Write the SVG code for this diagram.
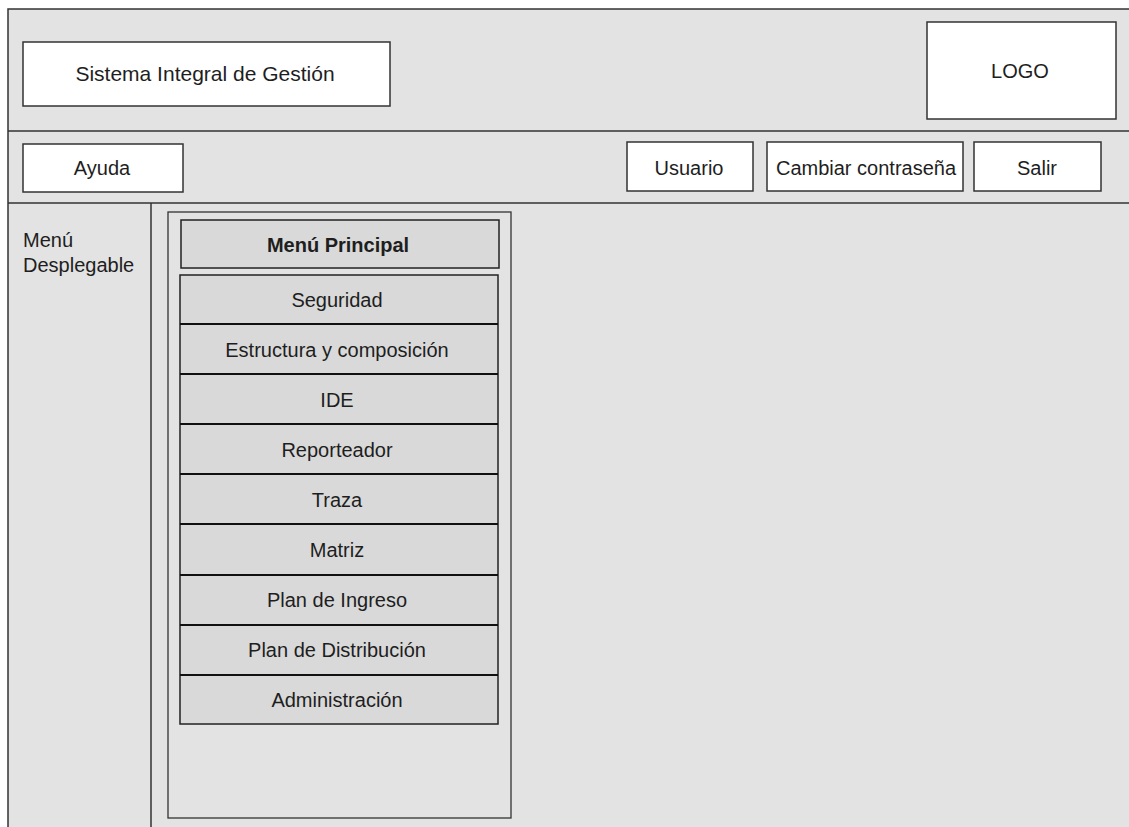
<svg xmlns="http://www.w3.org/2000/svg" width="1129" height="827" viewBox="0 0 1129 827">
  <style>
    .frame { fill: #e3e3e3; stroke: #333; stroke-width: 1.5; }
    .line { stroke: #333; stroke-width: 1.5; fill: none; }
    .box { fill: #ffffff; stroke: #333; stroke-width: 1.5; }
    .panel { fill: #e3e3e3; stroke: #333; stroke-width: 1.3; }
    .item { fill: #d9d9d9; stroke: #222; stroke-width: 1.5; }
    .sep { stroke: #111; stroke-width: 2.2; }
    .t { font-family: "Liberation Sans", Arial, sans-serif; font-size: 20px; fill: #1e1e1e; text-anchor: middle; }
    .tl { text-anchor: start; }
    .big { font-size: 21px; }
    .b { font-weight: bold; }
  </style>
  <rect width="1129" height="827" fill="#ffffff"/>

  <!-- page frame with header / toolbar / sidebar bands -->
  <g id="frame">
    <rect class="frame" x="8" y="9" width="1140" height="840"/>
    <line class="line" x1="8" y1="131" x2="1129" y2="131"/>
    <line class="line" x1="8" y1="203" x2="1129" y2="203"/>
    <line class="line" x1="151" y1="203" x2="151" y2="827"/>
  </g>

  <g id="title">
    <rect class="box" x="23" y="42" width="367" height="64"/>
    <text class="t big" x="205" y="81">Sistema Integral de Gestión</text>
  </g>
  <g id="logo">
    <rect class="box" x="927" y="22" width="189" height="97"/>
    <text class="t" x="1020" y="78">LOGO</text>
  </g>

  <g id="ayuda">
    <rect class="box" x="23" y="144" width="160" height="48"/>
    <text class="t" x="102" y="175">Ayuda</text>
  </g>
  <g id="usuario">
    <rect class="box" x="627" y="142" width="126" height="49"/>
    <text class="t" x="689" y="175">Usuario</text>
  </g>
  <g id="cambiar">
    <rect class="box" x="767" y="142" width="196" height="49"/>
    <text class="t" x="866" y="175">Cambiar contraseña</text>
  </g>
  <g id="salir">
    <rect class="box" x="974" y="142" width="127" height="49"/>
    <text class="t" x="1037" y="175">Salir</text>
  </g>

  <g id="sidebar-label">
    <text class="t tl" x="23" y="247">Menú</text>
    <text class="t tl" x="23" y="272">Desplegable</text>
  </g>

  <!-- drop-down menu panel -->
  <g id="menu-panel">
    <rect class="panel" x="168" y="212" width="343" height="606"/>
  </g>
  <g id="menu-header">
    <rect class="item" x="181" y="220" width="318" height="48"/>
    <text class="t b" x="338" y="252">Menú Principal</text>
  </g>

  <g id="menu-items">
    <rect class="item" x="180" y="275" width="318" height="449"/>
    <g id="connectors">
      <line class="sep" x1="180" y1="324" x2="498" y2="324"/>
      <line class="sep" x1="180" y1="374" x2="498" y2="374"/>
      <line class="sep" x1="180" y1="424" x2="498" y2="424"/>
      <line class="sep" x1="180" y1="474" x2="498" y2="474"/>
      <line class="sep" x1="180" y1="524" x2="498" y2="524"/>
      <line class="sep" x1="180" y1="575" x2="498" y2="575"/>
      <line class="sep" x1="180" y1="625" x2="498" y2="625"/>
      <line class="sep" x1="180" y1="675" x2="498" y2="675"/>
    </g>
    <g id="item-seguridad"><text class="t" x="337" y="307">Seguridad</text></g>
    <g id="item-estructura"><text class="t" x="337" y="357">Estructura y composición</text></g>
    <g id="item-ide"><text class="t" x="337" y="407">IDE</text></g>
    <g id="item-reporteador"><text class="t" x="337" y="457">Reporteador</text></g>
    <g id="item-traza"><text class="t" x="337" y="507">Traza</text></g>
    <g id="item-matriz"><text class="t" x="337" y="557">Matriz</text></g>
    <g id="item-ingreso"><text class="t" x="337" y="607">Plan de Ingreso</text></g>
    <g id="item-distribucion"><text class="t" x="337" y="657">Plan de Distribución</text></g>
    <g id="item-administracion"><text class="t" x="337" y="707">Administración</text></g>
  </g>
</svg>
